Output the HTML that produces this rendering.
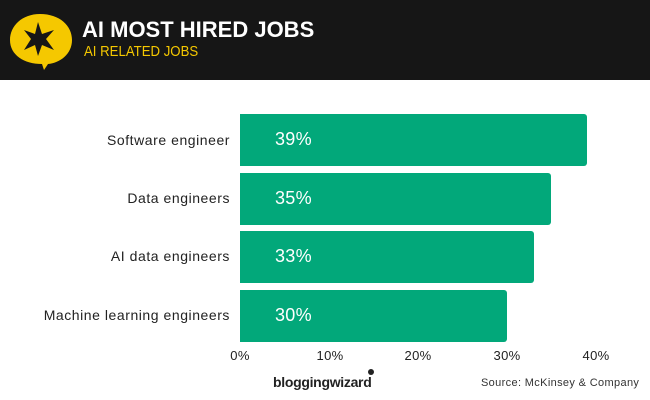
<!DOCTYPE html>
<html><head><style>
body{margin:0;width:650px;height:400px;background:#fff;font-family:"Liberation Sans",sans-serif;position:relative;overflow:hidden}
.hdr{position:absolute;left:0;top:0;width:650px;height:80px;background:#161616}
.t1{position:absolute;left:82px;top:17px;color:#fff;font-weight:bold;font-size:22px;letter-spacing:0px}
.t2{position:absolute;left:84px;top:43px;color:#f5c800;font-size:15px;transform:scaleX(0.88);transform-origin:left}
.bar{position:absolute;left:240px;height:52px;background:#02a87a;border-radius:0 3px 3px 0}
.bar span{position:absolute;left:35px;top:15px;color:#fff;font-size:18px;letter-spacing:0.3px}
.lab{position:absolute;right:420px;font-size:14px;letter-spacing:0.55px;color:#222;text-align:right;white-space:nowrap}
.tick{position:absolute;top:348px;font-size:13px;letter-spacing:0.3px;color:#222;transform:translateX(-50%)}
</style></head><body>
<div class="hdr">
<svg width="80" height="80" style="position:absolute;left:0;top:0">
<path d="M40 14 C60 14 72 26 72 40 C72 54 60 63 48 64 L44 70 L42 64 C24 64 10 55 10 40 C10 26 22 14 40 14Z" fill="#f5c800"/>
<polygon points="38,22 42,34 54,30 46,39 54,50 42,45 38,56 35,45 24,50 31,39 24,30 35,34" fill="#161616"/>
</svg>
<div class="t1">AI MOST HIRED JOBS</div>
<div class="t2">AI RELATED JOBS</div>
</div>
<div class="lab" style="top:132px">Software engineer</div>
<div class="lab" style="top:190px">Data engineers</div>
<div class="lab" style="top:248px">AI data engineers</div>
<div class="lab" style="top:307px">Machine learning engineers</div>
<div class="bar" style="top:114px;width:347px"><span>39%</span></div>
<div class="bar" style="top:173px;width:311px"><span>35%</span></div>
<div class="bar" style="top:231px;width:294px"><span>33%</span></div>
<div class="bar" style="top:290px;width:267px"><span>30%</span></div>
<div class="tick" style="left:240px">0%</div>
<div class="tick" style="left:330px">10%</div>
<div class="tick" style="left:418px">20%</div>
<div class="tick" style="left:507px">30%</div>
<div class="tick" style="left:596px">40%</div>
<div style="position:absolute;left:273px;top:374px;font-size:14px;font-weight:bold;color:#222;letter-spacing:-0.3px">bloggingwizard</div>
<div style="position:absolute;left:368px;top:369px;width:6px;height:6px;border-radius:50%;background:#222"></div>
<div style="position:absolute;left:481px;top:377px;font-size:11px;letter-spacing:0.35px;color:#333">Source: McKinsey &amp; Company</div>
</body></html>
